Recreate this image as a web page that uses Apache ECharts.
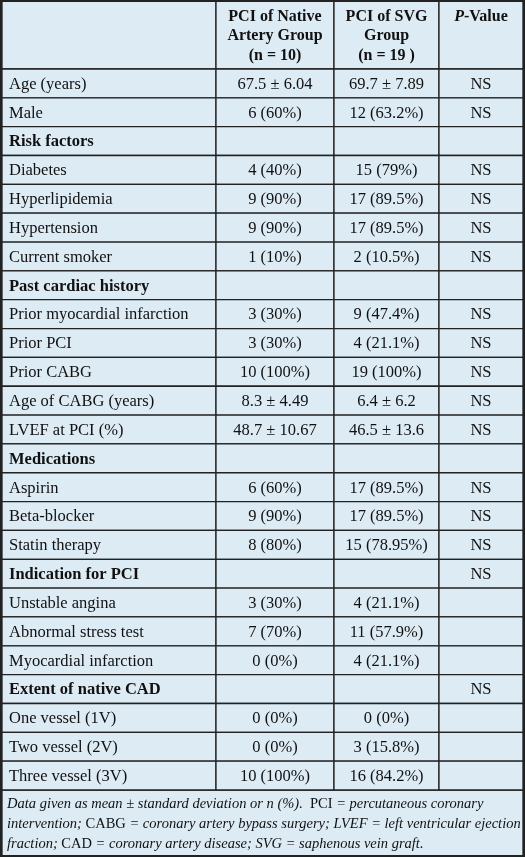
<!DOCTYPE html>
<html><head><meta charset="utf-8">
<script src="https://cdn.jsdelivr.net/npm/echarts@6/dist/echarts.min.js"></script>
<style>html,body{margin:0;padding:0;background:#fff}#c{width:525px;height:858px}</style>
</head><body><div id="c"></div>
<script>
const headers = ['', 'PCI of Native\nArtery Group\n(n = 10)', 'PCI of SVG\nGroup\n(n = 19 )', 'P-Value'];
const labels = ['Age (years)','Male','Risk factors','Diabetes','Hyperlipidemia','Hypertension','Current smoker','Past cardiac history','Prior myocardial infarction','Prior PCI','Prior CABG','Age of CABG (years)','LVEF at PCI (%)','Medications','Aspirin','Beta-blocker','Statin therapy','Indication for PCI','Unstable angina','Abnormal stress test','Myocardial infarction','Extent of native CAD','One vessel (1V)','Two vessel (2V)','Three vessel (3V)'];
const native = ['67.5 ± 6.04','6 (60%)','','4 (40%)','9 (90%)','9 (90%)','1 (10%)','','3 (30%)','3 (30%)','10 (100%)','8.3 ± 4.49','48.7 ± 10.67','','6 (60%)','9 (90%)','8 (80%)','','3 (30%)','7 (70%)','0 (0%)','','0 (0%)','0 (0%)','10 (100%)'];
const svg = ['69.7 ± 7.89','12 (63.2%)','','15 (79%)','17 (89.5%)','17 (89.5%)','2 (10.5%)','','9 (47.4%)','4 (21.1%)','19 (100%)','6.4 ± 6.2','46.5 ± 13.6','','17 (89.5%)','17 (89.5%)','15 (78.95%)','','4 (21.1%)','11 (57.9%)','4 (21.1%)','','0 (0%)','3 (15.8%)','16 (84.2%)'];
const pval = ['NS','NS','','NS','NS','NS','NS','','NS','NS','NS','NS','NS','','NS','NS','NS','NS','','','','NS','','',''];
const sections = ['Risk factors','Past cardiac history','Medications','Indication for PCI','Extent of native CAD'];

const colEdges = [0, 214, 332, 437, 521];
const BG = '#ddebf4', LINE = '#222', FONT = '"Liberation Serif", "DejaVu Serif", serif';
const chart = echarts.init(document.getElementById('c'));

function cell(x0, x1, y, h, text, align, bold) {
  return [
    {type:'rect', shape:{x:x0, y:y, width:x1-x0, height:h}, style:{fill:BG, stroke:LINE, lineWidth:1.3}},
    {type:'text', style:{text:text, x: align==='left' ? x0+7 : (x0+x1)/2, y: y+h/2+1,
      align:align, verticalAlign:'middle', font:(bold?'bold ':'')+'16.5px '+FONT, fill:'#111'}}
  ];
}

const footRich = {
  i:{fontStyle:'italic', fontSize:14.5, fontFamily:FONT, fill:'#111', lineHeight:20},
  n:{fontSize:14.5, fontFamily:FONT, fill:'#111', lineHeight:20}
};

chart.setOption({
  animation:false,
  grid:{left:2, right:2, top:69, bottom:68},
  xAxis:{type:'value', min:0, max:521, show:false},
  yAxis:{type:'category', data:labels, inverse:true, show:false},
  series:[{
    type:'custom',
    data: labels.map((l,i)=>[0,i]),
    renderItem:function(params, api){
      const i = api.value(1);
      const top = api.coord([0, i]);
      const h = api.size([0,1])[1];
      const y = top[1]-h/2;
      const xs = colEdges.map(e=>api.coord([e, i])[0]);
      const bold = sections.includes(labels[i]);
      const vals = [labels[i], native[i], svg[i], pval[i]];
      let kids = [];
      for (let c=0;c<4;c++) kids = kids.concat(cell(xs[c], xs[c+1], y, h, vals[c], c===0?'left':'center', c===0&&bold));
      return {type:'group', children:kids};
    }
  }],
  graphic:[
    ...[0,1,2,3].map(c=>({type:'group', children:[
      {type:'rect', shape:{x:2+colEdges[c], y:1, width:colEdges[c+1]-colEdges[c], height:68}, style:{fill:BG, stroke:LINE, lineWidth:1.3}},
      {type:'text', style:{text:c===3?'{i|P}-Value':headers[c], x:2+(colEdges[c]+colEdges[c+1])/2, y:c===3?17:36, align:'center', verticalAlign:'middle',
        font:'bold 16px '+FONT, lineHeight:19.5, fill:'#111',
        rich:{i:{fontStyle:'italic', fontWeight:'bold', fontSize:16, fontFamily:FONT}}}}
    ]})),
    {type:'rect', shape:{x:2, y:790, width:521, height:66}, style:{fill:BG, stroke:LINE, lineWidth:1.3}},
    {type:'text', style:{x:7, y:794, text:
      '{i|Data given as mean ± standard deviation or n (%).  }{n|PCI}{i| = percutaneous coronary}\n'+
      '{i|intervention; }{n|CABG}{i| = coronary artery bypass surgery; LVEF = left ventricular ejection}\n'+
      '{i|fraction; }{n|CAD}{i| = coronary artery disease; SVG = saphenous vein graft.}',
      rich:footRich, fill:'#111'}},
    {type:'rect', shape:{x:1, y:1, width:523, height:855}, style:{fill:'none', stroke:LINE, lineWidth:2}}
  ]
});
</script></body></html>
